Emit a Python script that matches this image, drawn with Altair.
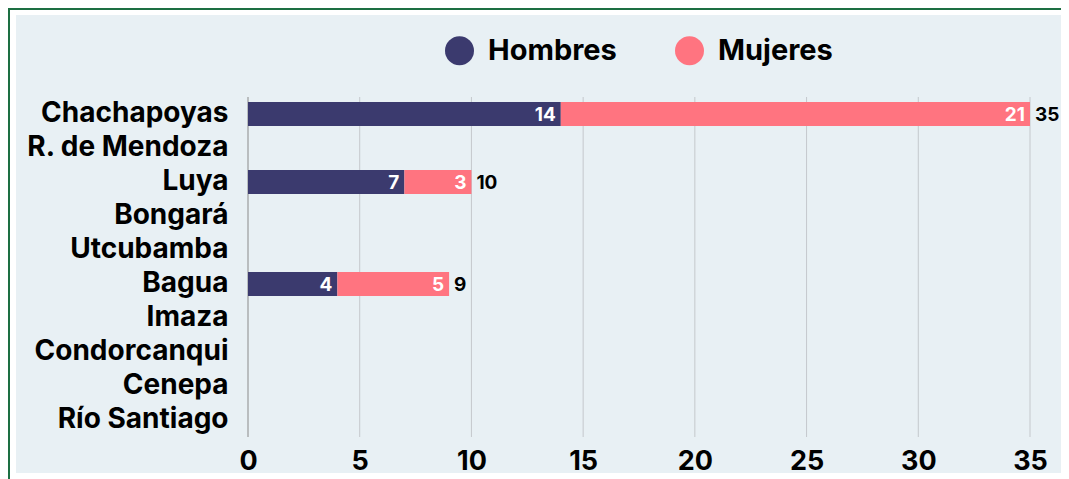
import altair as alt
import pandas as pd

provincias = ["Chachapoyas", "R. de Mendoza", "Luya", "Bongará", "Utcubamba",
              "Bagua", "Imaza", "Condorcanqui", "Cenepa", "Río Santiago"]
hombres = [14, 0, 7, 0, 0, 4, 0, 0, 0, 0]
mujeres = [21, 0, 3, 0, 0, 5, 0, 0, 0, 0]
series = ["Hombres", "Mujeres"]
colores = ["#3b3a6e", "#ff7480"]
ticks = [0, 5, 10, 15, 20, 25, 30, 35]

rows = []
for p, h, m in zip(provincias, hombres, mujeres):
    rows.append({"provincia": p, "sexo": "Hombres", "orden": 0, "valor": h})
    rows.append({"provincia": p, "sexo": "Mujeres", "orden": 1, "valor": m})
df = pd.DataFrame(rows)
totales = pd.DataFrame({"provincia": provincias,
                        "total": [h + m for h, m in zip(hombres, mujeres)]})
grid_df = pd.DataFrame({"t": ticks})

FONT = "Inter"
W, H = 782, 340
GREEN = "#1d6f43"

xscale = alt.Scale(domain=[0, 35], nice=False, zero=True)
yenc = alt.Y("provincia:N", sort=provincias,
             scale=alt.Scale(paddingInner=0.3, paddingOuter=0.15),
             axis=alt.Axis(title=None, labelFontSize=28, labelFontWeight="bold",
                           labelColor="#000000", labelPadding=20, ticks=False,
                           domain=False, grid=False, labelFont=FONT, labelLimit=0,
                           zindex=2))

# decorative frame (background, white gap, green top/left border)
frame_data = alt.Data(values=[{"a": 1}])
outer = alt.Chart(frame_data).mark_rect(fill="white").encode(
    x=alt.value(-240), x2=alt.value(900), y=alt.value(-89), y2=alt.value(500))
inner = alt.Chart(frame_data).mark_rect(fill="#e8f0f4").encode(
    x=alt.value(-232), x2=alt.value(900), y=alt.value(-82), y2=alt.value(376))
top_border = alt.Chart(frame_data).mark_rule(color=GREEN, strokeWidth=2).encode(
    x=alt.value(-240), x2=alt.value(900), y=alt.value(-88))
left_border = alt.Chart(frame_data).mark_rule(color=GREEN, strokeWidth=2).encode(
    x=alt.value(-239), y=alt.value(-89), y2=alt.value(500))

grid = alt.Chart(grid_df).mark_rule(strokeWidth=1).encode(
    x=alt.X("t:Q", scale=xscale),
    color=alt.condition(alt.datum.t == 0, alt.value("#8a8a8a"), alt.value("#c4c8cc")),
)

bars = alt.Chart(df).mark_bar(size=24).encode(
    x=alt.X("valor:Q", stack="zero", scale=xscale,
            axis=alt.Axis(title=None, values=ticks, labelFontSize=27, labelFontWeight="bold",
                          labelColor="#000000", labelPadding=11, ticks=False,
                          labelFlush=False, domain=False, grid=False, labelFont=FONT,
                          zindex=2)),
    y=yenc,
    color=alt.Color("sexo:N", scale=alt.Scale(domain=series, range=colores),
                    legend=alt.Legend(title=None, orient="none", direction="horizontal",
                                      legendX=197, legendY=-61, symbolType="circle",
                                      symbolSize=841, symbolStrokeWidth=0,
                                      labelFontSize=29, labelFontWeight="bold",
                                      labelColor="#000000", labelOffset=14,
                                      columnPadding=58, labelFont=FONT, zindex=2)),
    order=alt.Order("orden:Q"),
)

inner_labels = alt.Chart(df).transform_filter(alt.datum.valor > 0).mark_text(
    align="right", baseline="middle", dx=-5, dy=1, color="white", fontSize=19,
    fontWeight="bold", font=FONT).encode(
    x=alt.X("valor:Q", stack="zero", scale=xscale),
    y=alt.Y("provincia:N", sort=provincias),
    detail="sexo:N",
    order=alt.Order("orden:Q"),
    text=alt.Text("valor:Q"),
)

total_labels = alt.Chart(totales).transform_filter(alt.datum.total > 0).mark_text(
    align="left", baseline="middle", dx=5, dy=1, color="black", fontSize=19,
    fontWeight="bold", font=FONT).encode(
    x=alt.X("total:Q", scale=xscale),
    y=alt.Y("provincia:N", sort=provincias),
    text=alt.Text("total:Q"),
)

chart = alt.layer(outer, inner, top_border, left_border, grid, bars,
                  inner_labels, total_labels).properties(
    width=W, height=H,
    autosize=alt.AutoSizeParams(type="none"),
    padding={"left": 240, "top": 89, "right": 31, "bottom": 42},
    background="white",
).configure_view(stroke=None).configure(font=FONT)

chart.save("out.html", embed_options={"renderer": "svg", "actions": False})
